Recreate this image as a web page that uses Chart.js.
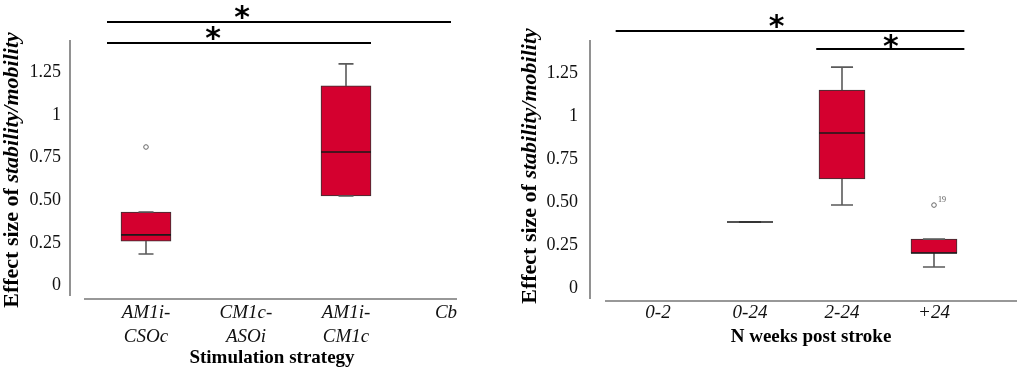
<!DOCTYPE html>
<html>
<head>
<meta charset="utf-8">
<script src="https://cdn.jsdelivr.net/npm/chart.js@4.4.1/dist/chart.umd.min.js"></script>
<style>
body{margin:0;background:#fff;}
#wrap{position:relative;width:1021px;height:373px;overflow:hidden;}
canvas{position:absolute;top:0;}
</style>
</head>
<body>
<div id="wrap">
<canvas id="left" width="515" height="373" style="left:0px"></canvas>
<canvas id="right" width="506" height="373" style="left:515px"></canvas>
</div>
<script>
/* y ticks shared by both panels */
const tickValues = [0, 0.25, 0.5, 0.75, 1, 1.25];
const tickLabels = ["0", "0.25", "0.50", "0.75", "1", "1.25"];

/* panel 1 : stimulation strategy */
const stratLabels = [["AM1i-","CSOc"], ["CM1c-","ASOi"], ["AM1i-","CM1c"], "Cb"];
const stratQ1 = [0.262, null, 0.526, null];
const stratMedian = [0.298, null, 0.784, null];
const stratQ3 = [0.432, null, 1.171, null];
const stratLow = [0.186, null, 0.526, null];
const stratHigh = [0.432, null, 1.300, null];
const stratOutliers = [[0.813], [], [], []];
const stratOutlierIds = [[""], [], [], []];
/* significance brackets: category index from/to, y value of line */
const stratSig = [
{from:-0.39, to:3.05, y:1.546, starX:0.96, starY:1.604},
{from:-0.39, to:2.25, y:1.423, starX:0.67, starY:1.481}
];

/* panel 2 : weeks post stroke */
const weekLabels = ["0-2", "0-24", "2-24", "+24"];
const weekQ1 = [null, 0.386, 0.635, 0.206];
const weekMedian = [null, 0.386, 0.901, 0.206];
const weekQ3 = [null, 0.386, 1.150, 0.287];
const weekLow = [null, 0.386, 0.484, 0.125];
const weekHigh = [null, 0.386, 1.283, 0.287];
const weekOutliers = [[], [], [], [0.484]];
const weekOutlierIds = [[], [], [], ["19"]];
const weekSig = [
{from:-0.46, to:3.33, y:1.492, starX:1.29, starY:1.55},
{from:1.72, to:3.33, y:1.385, starX:2.53, starY:1.434}
];

const boxFill = "#d4002f";
const serif = "'Liberation Serif', 'Times New Roman', serif";

/* draws whiskers, medians, outliers, brackets, axis lines and titles */
const boxPlugin = {
id:"boxExtras",
afterDatasetsDraw(chart){
const o = chart.options.plugins.boxExtras;
const ctx = chart.ctx;
const x = chart.scales.x;
const y = chart.scales.y;
const meta = chart.getDatasetMeta(0);
ctx.save();
for(let i=0;i<o.median.length;i++){
if(o.median[i]==null) continue;
const cx = x.getPixelForValue(i);
const w = meta.data[i].width;
const cap = w*o.capFrac;
const yq1 = y.getPixelForValue(o.q1[i]);
const yq3 = y.getPixelForValue(o.q3[i]);
const ylo = y.getPixelForValue(o.low[i]);
const yhi = y.getPixelForValue(o.high[i]);
/* whiskers */
ctx.strokeStyle="#5a5a5a";
ctx.lineWidth=1.6;
ctx.beginPath();
if(ylo-yq1>0.5){ctx.moveTo(cx,yq1);ctx.lineTo(cx,ylo);}
if(yq3-yhi>0.5){ctx.moveTo(cx,yq3);ctx.lineTo(cx,yhi);}
ctx.moveTo(cx-cap/2,ylo);ctx.lineTo(cx+cap/2,ylo);
ctx.moveTo(cx-cap/2,yhi);ctx.lineTo(cx+cap/2,yhi);
ctx.stroke();
/* median */
const ym = y.getPixelForValue(o.median[i]);
ctx.strokeStyle="#1a1a1a";
ctx.lineWidth=1.6;
ctx.beginPath();
ctx.moveTo(cx-w/2,ym);ctx.lineTo(cx+w/2,ym);
ctx.stroke();
}
/* outliers */
for(let i=0;i<o.outliers.length;i++){
const cx = x.getPixelForValue(i);
o.outliers[i].forEach((v,k)=>{
const py = y.getPixelForValue(v);
ctx.strokeStyle="#666";
ctx.lineWidth=1;
ctx.beginPath();
ctx.arc(cx,py,2.3,0,Math.PI*2);
ctx.stroke();
if(o.outlierIds[i][k]){
ctx.fillStyle="#555";
ctx.font="8px "+serif;
ctx.textAlign="left";
ctx.textBaseline="middle";
ctx.fillText(o.outlierIds[i][k],cx+4,py-5);
}
});
}
ctx.restore();
},
afterDraw(chart){
const o = chart.options.plugins.boxExtras;
const ctx = chart.ctx;
const x = chart.scales.x;
const y = chart.scales.y;
const a = chart.chartArea;
ctx.save();
/* axis lines */
ctx.strokeStyle="#777";
ctx.lineWidth=1.6;
ctx.beginPath();
ctx.moveTo(a.left+o.yAxisDx,a.top);
ctx.lineTo(a.left+o.yAxisDx,a.bottom);
ctx.moveTo(o.xAxisFrom,a.bottom+o.xAxisDy);
ctx.lineTo(o.xAxisTo,a.bottom+o.xAxisDy);
ctx.stroke();
/* significance brackets */
ctx.strokeStyle="#000";
ctx.lineWidth=2;
ctx.fillStyle="#000";
ctx.font="bold 30px 'DejaVu Sans', sans-serif";
ctx.textAlign="center";
ctx.textBaseline="alphabetic";
o.sig.forEach(s=>{
const ly = Math.round(y.getPixelForValue(s.y));
ctx.beginPath();
ctx.moveTo(x.getPixelForValue(s.from),ly);
ctx.lineTo(x.getPixelForValue(s.to),ly);
ctx.stroke();
const m = ctx.measureText("*");
const sy = y.getPixelForValue(s.starY);
ctx.fillText("*",x.getPixelForValue(s.starX),sy+(m.actualBoundingBoxAscent-m.actualBoundingBoxDescent)/2);
});
/* x title */
ctx.fillStyle="#000";
ctx.font="bold 19px "+serif;
ctx.textAlign="center";
ctx.textBaseline="middle";
ctx.fillText(o.xTitle,o.xTitleX,o.xTitleY);
/* y title, mixed upright / italic */
const f1 = "bold 22px "+serif;
const f2 = "italic bold 22px "+serif;
ctx.font=f1;
const w1 = ctx.measureText(o.yTitle[0]).width;
ctx.font=f2;
const w2 = ctx.measureText(o.yTitle[1]).width;
ctx.translate(o.yTitleX,o.yTitleY);
ctx.rotate(-Math.PI/2);
ctx.textAlign="left";
ctx.textBaseline="middle";
ctx.font=f1;
ctx.fillText(o.yTitle[0],-(w1+w2)/2,0);
ctx.font=f2;
ctx.fillText(o.yTitle[1],-(w1+w2)/2+w1,0);
ctx.restore();
}
};

function makeChart(id,labels,q1,median,q3,low,high,outliers,outlierIds,sig,st){
const boxes = q1.map((v,i)=> v==null ? null : [v,q3[i]]);
return new Chart(document.getElementById(id),{
type:"bar",
data:{
labels:labels,
datasets:[{
data:boxes,
backgroundColor:boxFill,
borderColor:"#333",
borderWidth:1,
borderSkipped:false,
barThickness:st.barWidth
}]
},
options:{
responsive:false,
animation:false,
layout:{padding:{left:0,top:40,right:st.padRight,bottom:0}},
plugins:{
legend:{display:false},
tooltip:{enabled:false},
boxExtras:{
q1:q1,median:median,q3:q3,low:low,high:high,
outliers:outliers,outlierIds:outlierIds,sig:sig,
capFrac:st.capFrac,
yAxisDx:st.yAxisDx,xAxisFrom:st.xAxisFrom,xAxisTo:st.xAxisTo,xAxisDy:st.xAxisDy,
xTitle:st.xTitle,xTitleX:st.xTitleX,xTitleY:st.xTitleY,
yTitle:["Effect size of ","stability/mobility"],yTitleX:st.yTitleX,yTitleY:st.yTitleY
}
},
scales:{
x:{
grid:{display:false,drawTicks:false},
border:{display:false},
ticks:{
color:"#111",
padding:st.xTickPad,
maxRotation:0,
font:{family:serif,size:19,style:"italic",lineHeight:1.25}
},
afterFit:(s)=>{s.height=st.xHeight;}
},
y:{
min:-0.06,
max:1.44,
grid:{display:false,drawTicks:false},
border:{display:false},
afterBuildTicks:(s)=>{s.ticks=tickValues.map(v=>({value:v}));},
afterFit:(s)=>{s.width=st.yWidth;},
ticks:{
color:"#111",
padding:st.yTickPad,
/* small lineHeight keeps the label padding from pushing the plot area down */
font:{family:serif,size:18,lineHeight:0.2},
callback:(v,i)=> tickLabels[i]
}
}
}
},
plugins:[boxPlugin]
});
}

makeChart("left",stratLabels,stratQ1,stratMedian,stratQ3,stratLow,stratHigh,stratOutliers,stratOutlierIds,stratSig,{
barWidth:50,capFrac:0.3,padRight:19,xHeight:77,yWidth:96,yTickPad:35,xTickPad:5,
yAxisDx:-26,xAxisFrom:84,xAxisTo:457,xAxisDy:3,
xTitle:"Stimulation strategy",xTitleX:272,xTitleY:358,
yTitleX:12,yTitleY:170
});

makeChart("right",weekLabels,weekQ1,weekMedian,weekQ3,weekLow,weekHigh,weekOutliers,weekOutlierIds,weekSig,{
barWidth:46,capFrac:0.48,padRight:41,xHeight:74,yWidth:97,yTickPad:34,xTickPad:2,
yAxisDx:-22,xAxisFrom:90,xAxisTo:502,xAxisDy:2,
xTitle:"N weeks post stroke",xTitleX:296,xTitleY:337,
yTitleX:15,yTitleY:166
});
</script>
</body>
</html>
